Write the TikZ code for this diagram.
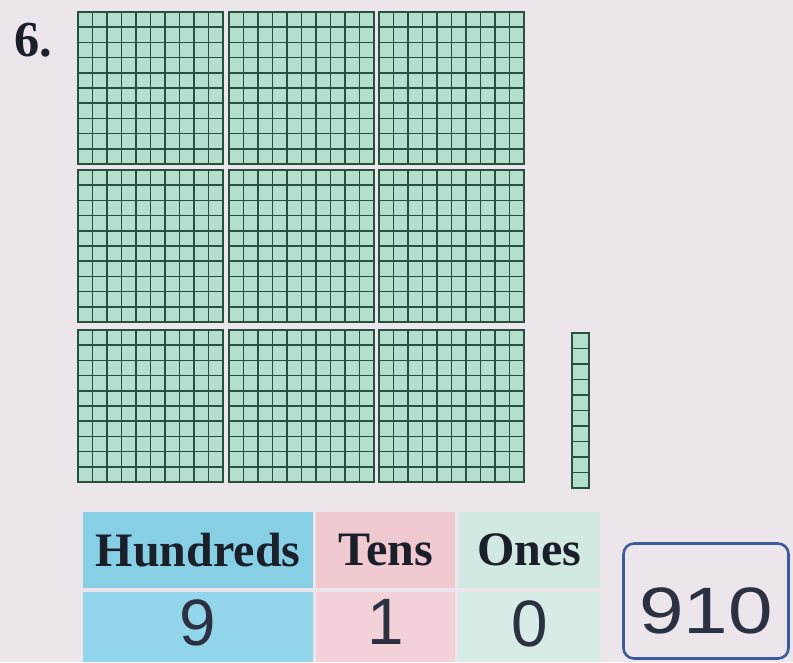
\documentclass[tikz,border=0pt]{standalone}
\usepackage{fontspec}
\setmainfont{Liberation Serif}
\newfontfamily\handfont{Liberation Sans}
\usepackage{xcolor}
\definecolor{pagebg}{HTML}{ECE5EC}
\definecolor{flatfill}{HTML}{B4DFCD}
\definecolor{flatline}{HTML}{27503F}
\definecolor{hundhead}{HTML}{86CFE5}
\definecolor{hundval}{HTML}{93D6EC}
\definecolor{tenshead}{HTML}{F0C9D1}
\definecolor{tensval}{HTML}{F3D1D8}
\definecolor{oneshead}{HTML}{D2E8E2}
\definecolor{onesval}{HTML}{D7ECE7}
\definecolor{inkblue}{HTML}{3A5A9C}
\definecolor{inkgray}{HTML}{2C3142}
\definecolor{headink}{HTML}{1A1F2A}

\begin{document}
\begin{tikzpicture}[x=0.03cm, y=-0.03cm,
  cellline/.style={draw=flatline, line width=1.3pt},
  blockedge/.style={draw=flatline, line width=1.6pt},
  cell/.style={inner sep=0pt, anchor=north west},
  headtext/.style={font=\fontsize{41}{44}\selectfont\bfseries, text=headink},
  handtext/.style={font=\handfont\fontsize{56}{58}\selectfont, text=inkgray},
  answer/.style={draw=inkblue, line width=2.2pt, rounded corners=9pt}
]
% page
\fill[pagebg] (0,0) rectangle (793,662);
\node[font=\fontsize{43}{46}\selectfont\bfseries, text=headink, anchor=west] (num) at (10,40) {6.};

% nine hundreds flats
\foreach \bx in {78,229,379} {
  \foreach \by in {12,170,330} {
    \begin{scope}[shift={(\bx,\by)}]
      \fill[flatfill] (0,0) rectangle (145,152);
      \foreach \k in {1,...,9} {
        \draw[cellline] (14.5*\k,0) -- (14.5*\k,152);
        \draw[cellline] (0,15.2*\k) -- (145,15.2*\k);
      }
      \draw[blockedge] (0,0) rectangle (145,152);
    \end{scope}
  }
}

% one tens rod
\fill[flatfill] (572,333) rectangle (589,488);
\foreach \k in {1,...,9}
  \draw[cellline] (572,333+15.5*\k) -- (589,333+15.5*\k);
\draw[blockedge] (572,333) rectangle (589,488);

% place value chart
\node[cell, fill=hundhead, minimum width=6.9cm, minimum height=2.28cm] (hundH) at (83,512) {};
\node[cell, fill=tenshead, minimum width=4.17cm, minimum height=2.28cm] (tensH) at (316,512) {};
\node[cell, fill=oneshead, minimum width=4.26cm, minimum height=2.28cm] (onesH) at (458,512) {};
\node[cell, fill=hundval, minimum width=6.9cm, minimum height=2.1cm] (hundV) at (83,592) {};
\node[cell, fill=tensval, minimum width=4.17cm, minimum height=2.1cm] (tensV) at (316,592) {};
\node[cell, fill=onesval, minimum width=4.26cm, minimum height=2.1cm] (onesV) at (458,592) {};

\node[headtext] (hundT) at (hundH.center) {Hundreds};
\node[headtext] (tensT) at (tensH.center) {Tens};
\node[headtext] (onesT) at (onesH.center) {Ones};
\node[handtext] (hundD) at ([yshift=0.12cm]hundV.center) {9};
\node[handtext] (tensD) at ([yshift=0.15cm]tensV.center) {1};
\node[handtext] (onesD) at ([yshift=0.1cm]onesV.center) {0};

% answer
\node[answer, minimum width=4.95cm, minimum height=3.45cm] (ans) at (706,601) {};
\node[handtext, xscale=1.22] (ansT) at ([yshift=-0.3cm]ans.center) {910};
\end{tikzpicture}
\end{document}
